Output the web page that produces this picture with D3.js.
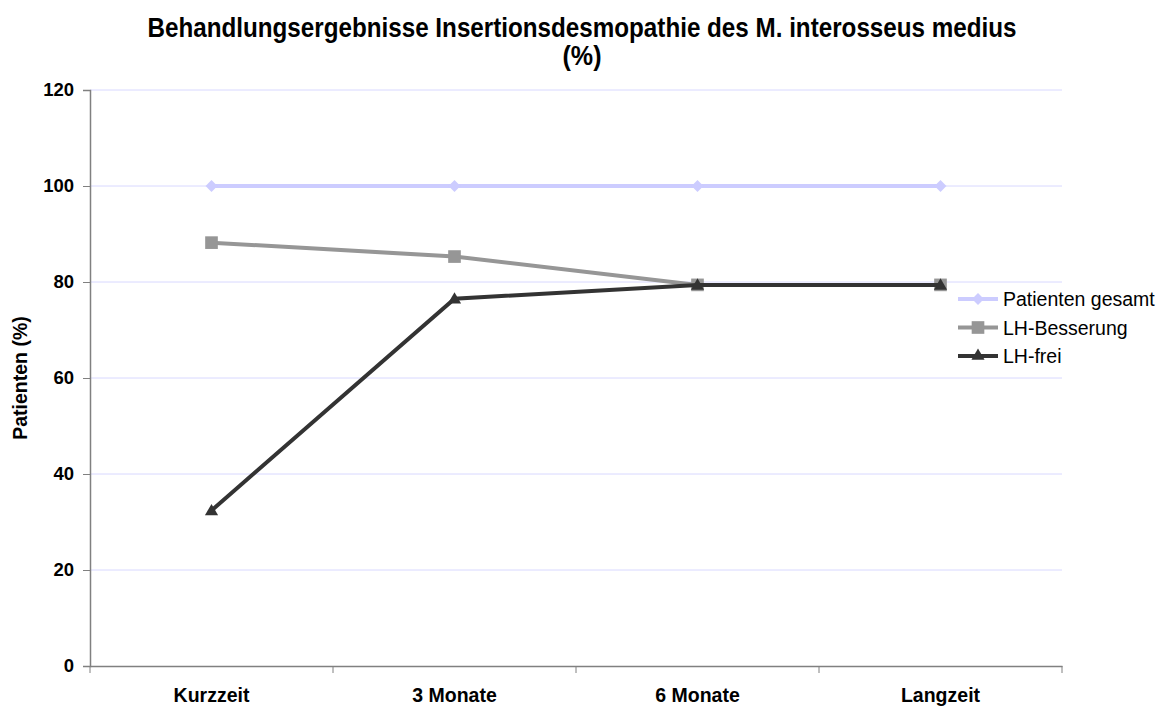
<!DOCTYPE html>
<html>
<head>
<meta charset="utf-8">
<script src="https://cdn.jsdelivr.net/npm/d3@7"></script>
<style>
  body { margin: 0; background: #fff; }
  svg text { font-family: "Liberation Sans", Arial, sans-serif; }
</style>
</head>
<body>
<svg id="chart" width="1164" height="709"></svg>
<script>
(function(){

  // DATA ////////////////////////////////////////////////////////////////////

  var categories = ["Kurzzeit", "3 Monate", "6 Monate", "Langzeit"];
  var gesamt     = [100, 100, 100, 100];
  var besserung  = [88.2, 85.3, 79.4, 79.4];
  var frei       = [32.4, 76.5, 79.4, 79.4];
  var yTicks     = [0, 20, 40, 60, 80, 100, 120];

  var series = [
    { name: "Patienten gesamt", values: gesamt,    color: "#ccccff", symbol: d3.symbolDiamond2, size: 90 },
    { name: "LH-Besserung",     values: besserung, color: "#969696", symbol: d3.symbolSquare,   size: 160 },
    { name: "LH-frei",          values: frei,      color: "#333333", symbol: d3.symbolTriangle, size: 75 }
  ];

  // LAYOUT //////////////////////////////////////////////////////////////////

  var left = 90, right = 1062, top = 90, bottom = 666;

  var svg = d3.select("#chart");

  var x = d3.scaleBand().domain(categories).range([left, right]);
  var y = d3.scaleLinear().domain([0, 120]).range([bottom, top]);

  // grid lines
  svg.append("g")
    .selectAll("line")
    .data(yTicks.filter(function(t){ return t > 0; }))
    .enter()
    .append("line")
    .attr("x1", left).attr("x2", right)
    .attr("y1", function(d){ return y(d); })
    .attr("y2", function(d){ return y(d); })
    .attr("stroke", "#d8d8ff")
    .attr("stroke-width", 1);

  // y axis
  var yAxis = svg.append("g")
    .attr("transform", "translate(" + left + ",0)")
    .call(d3.axisLeft(y).tickValues(yTicks).tickSize(7).tickPadding(9));
  yAxis.select(".domain").attr("stroke", "#808080").attr("stroke-width", 1.5);
  yAxis.selectAll(".tick line").attr("stroke", "#808080");
  yAxis.selectAll("text")
    .attr("fill", "#000")
    .style("font-size", "18.5px")
    .style("font-weight", "bold");

  // x axis
  var xAxis = svg.append("g")
    .attr("transform", "translate(0," + bottom + ")")
    .call(d3.axisBottom(x).tickSize(0).tickPadding(22));
  xAxis.select(".domain").attr("stroke", "#808080").attr("stroke-width", 1.5);
  xAxis.selectAll("text")
    .attr("fill", "#000")
    .style("font-size", "19.5px")
    .style("font-weight", "bold");

  // x ticks between categories
  var bounds = categories.map(function(c){ return x(c); }).concat([right]);
  xAxis.selectAll(".sep")
    .data(bounds)
    .enter()
    .append("line")
    .attr("class", "sep")
    .attr("x1", function(d){ return d; })
    .attr("x2", function(d){ return d; })
    .attr("y1", 0).attr("y2", 7)
    .attr("stroke", "#808080");

  // lines + markers
  var cx = function(i){ return x(categories[i]) + x.bandwidth() / 2; };
  var line = d3.line()
    .x(function(d, i){ return cx(i); })
    .y(function(d){ return y(d); });

  series.forEach(function(s){
    svg.append("path")
      .datum(s.values)
      .attr("d", line)
      .attr("fill", "none")
      .attr("stroke", s.color)
      .attr("stroke-width", 4);

    svg.append("g")
      .selectAll("path")
      .data(s.values)
      .enter()
      .append("path")
      .attr("d", d3.symbol().type(s.symbol).size(s.size))
      .attr("transform", function(d, i){
        var dy = s.symbol === d3.symbolTriangle ? 1 : 0;
        return "translate(" + cx(i) + "," + (y(d) + dy) + ")";
      })
      .attr("fill", s.color);
  });

  // TITLES //////////////////////////////////////////////////////////////////

  // the title font is narrow and tall, so squeeze it to the measured width
  svg.append("text")
    .attr("x", 582).attr("y", 37)
    .attr("text-anchor", "middle")
    .attr("textLength", 869)
    .attr("lengthAdjust", "spacingAndGlyphs")
    .style("font-size", "27px")
    .style("font-weight", "bold")
    .text("Behandlungsergebnisse Insertionsdesmopathie des M. interosseus medius");

  svg.append("text")
    .attr("x", 582).attr("y", 65)
    .attr("text-anchor", "middle")
    .attr("textLength", 39)
    .attr("lengthAdjust", "spacingAndGlyphs")
    .style("font-size", "27px")
    .style("font-weight", "bold")
    .text("(%)");

  svg.append("text")
    .attr("transform", "translate(27,378) rotate(-90)")
    .attr("text-anchor", "middle")
    .style("font-size", "19.5px")
    .style("font-weight", "bold")
    .text("Patienten (%)");

  // LEGEND //////////////////////////////////////////////////////////////////

  var legend = svg.append("g")
    .selectAll("g")
    .data(series)
    .enter()
    .append("g")
    .attr("transform", function(d, i){ return "translate(958," + (299 + i * 28.5) + ")"; });

  legend.append("line")
    .attr("x1", 0).attr("x2", 40)
    .attr("stroke", function(d){ return d.color; })
    .attr("stroke-width", 4);

  legend.append("path")
    .attr("d", function(d){ return d3.symbol().type(d.symbol).size(d.size)(); })
    .attr("transform", "translate(20,0)")
    .attr("fill", function(d){ return d.color; });

  legend.append("text")
    .attr("x", 45).attr("y", 7)
    .style("font-size", "19.5px")
    .text(function(d){ return d.name; });

})();
</script>
</body>
</html>
